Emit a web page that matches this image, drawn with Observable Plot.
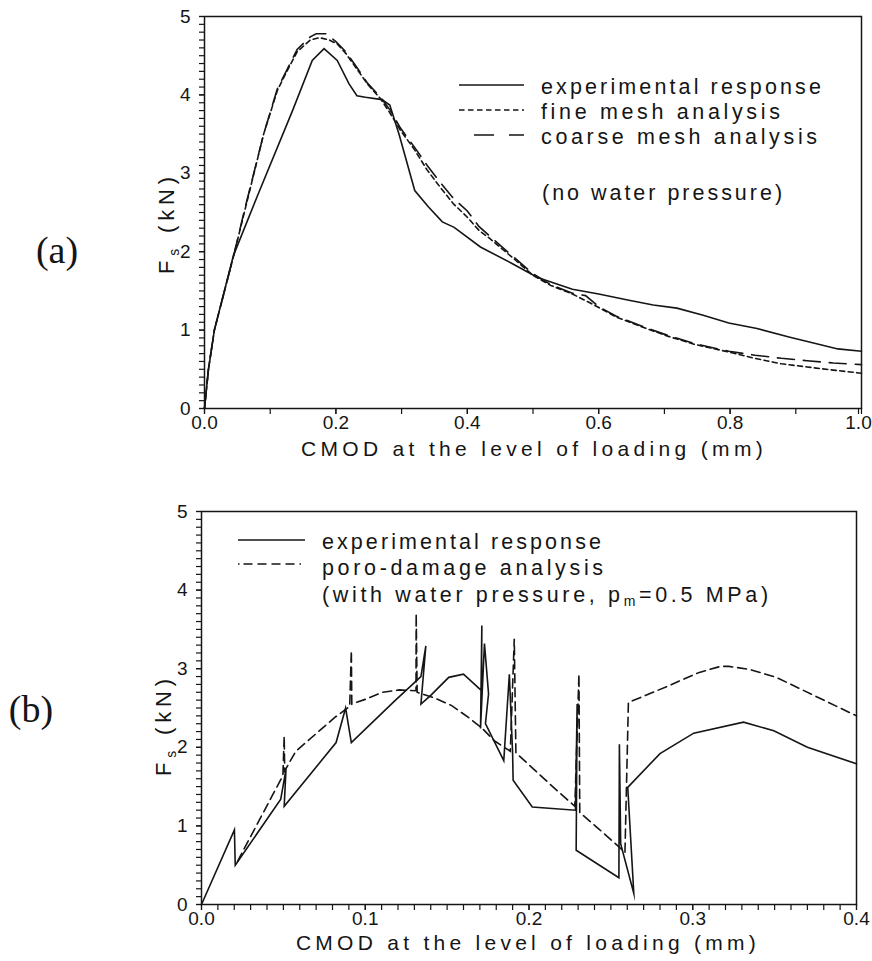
<!DOCTYPE html>
<html>
<head>
<meta charset="utf-8">
<script src="https://cdn.jsdelivr.net/npm/d3@7"></script>
<script src="https://cdn.jsdelivr.net/npm/@observablehq/plot@0.6"></script>
<style>
  html, body { margin: 0; padding: 0; background: #fff; }
  body { width: 872px; height: 961px; position: relative; overflow: hidden; }
  #panelA, #panelB { position: absolute; left: 0; }
  #panelA { top: 0; }
  #panelB { top: 480px; }
</style>
</head>
<body>
<div id="panelA"></div>
<div id="panelB"></div>
<script>
// ---------- DATA ----------
// Panel (a): no water pressure
const expA_cmod   = [0,0.006,0.015,0.044,0.08,0.134,0.164,0.182,0.202,0.22,0.232,0.245,0.27,0.282,0.296,0.32,0.341,0.362,0.38,0.42,0.468,0.507,0.56,0.6,0.646,0.683,0.719,0.759,0.798,0.841,0.891,0.93,0.964,1.0];
const expA_force  = [0,0.5,1.0,1.95,2.7,3.8,4.44,4.59,4.44,4.14,3.99,3.97,3.94,3.87,3.5,2.78,2.57,2.38,2.31,2.06,1.85,1.67,1.52,1.46,1.38,1.32,1.28,1.19,1.09,1.02,0.91,0.83,0.76,0.73];

const fineA_cmod  = [0,0.006,0.015,0.045,0.06,0.075,0.09,0.111,0.126,0.141,0.161,0.175,0.19,0.202,0.215,0.232,0.248,0.268,0.283,0.298,0.319,0.339,0.359,0.379,0.4,0.418,0.434,0.468,0.5,0.527,0.56,0.593,0.626,0.666,0.706,0.745,0.798,0.838,0.878,0.917,0.957,1.0];
const fineA_force = [0,0.5,1.0,1.97,2.48,2.99,3.5,4.06,4.31,4.55,4.7,4.73,4.7,4.65,4.53,4.33,4.14,3.95,3.76,3.55,3.31,3.04,2.82,2.61,2.44,2.27,2.17,1.93,1.7,1.57,1.46,1.32,1.17,1.04,0.92,0.82,0.72,0.64,0.57,0.53,0.49,0.45];

const coarseA_cmod  = [0,0.006,0.015,0.045,0.06,0.075,0.09,0.111,0.126,0.141,0.161,0.17,0.185,0.2,0.215,0.232,0.248,0.268,0.283,0.298,0.319,0.339,0.359,0.379,0.4,0.418,0.434,0.468,0.5,0.527,0.56,0.58,0.6,0.626,0.666,0.706,0.745,0.798,0.838,0.878,0.917,0.957,1.0];
const coarseA_force = [0,0.5,1.0,1.97,2.5,3.0,3.5,4.08,4.33,4.58,4.74,4.78,4.78,4.68,4.55,4.35,4.15,3.97,3.8,3.58,3.34,3.1,2.88,2.68,2.52,2.32,2.2,1.95,1.72,1.58,1.47,1.44,1.3,1.18,1.05,0.93,0.83,0.73,0.68,0.64,0.61,0.58,0.56];

// Panel (b): with water pressure
const expB_cmod  = [0,0.0201,0.0206,0.0484,0.0516,0.0505,0.0822,0.088,0.0915,0.118,0.134,0.137,0.134,0.14,0.151,0.160,0.171,0.1712,0.1704,0.1728,0.1753,0.1734,0.1846,0.188,0.19,0.1903,0.202,0.2284,0.2294,0.2288,0.2549,0.2552,0.256,0.264,0.2603,0.28,0.3006,0.331,0.3495,0.37,0.4];
const expB_force = [0,0.95,0.50,1.34,1.72,1.25,2.06,2.5,2.06,2.59,2.9,3.29,2.55,2.66,2.89,2.93,2.72,3.55,2.24,3.32,2.68,2.30,1.83,2.93,1.92,1.58,1.24,1.20,2.55,0.69,0.34,2.04,0.77,0.14,1.49,1.92,2.18,2.32,2.21,2.0,1.79];

const poroB_cmod  = [0.022,0.0497,0.0505,0.0508,0.0576,0.0709,0.0814,0.0905,0.0915,0.0918,0.1,0.1105,0.121,0.131,0.1311,0.1317,0.142,0.1528,0.163,0.171,0.179,0.1886,0.191,0.192,0.203,0.216,0.228,0.2305,0.231,0.2427,0.2546,0.2586,0.2607,0.285,0.3035,0.317,0.322,0.335,0.351,0.375,0.4];
const poroB_force = [0.55,1.64,2.14,1.70,1.95,2.19,2.38,2.52,3.23,2.55,2.61,2.70,2.73,2.72,3.70,2.70,2.63,2.53,2.38,2.25,2.08,1.95,3.38,1.93,1.72,1.47,1.25,2.93,1.17,0.96,0.74,0.66,2.57,2.78,2.95,3.03,3.03,2.99,2.89,2.65,2.40];

// Ticks
const yMajorTicks  = [0,1,2,3,4,5];
const yTickLabels  = ["0","1","2","3","4","5"];
const yMinorTicks  = d3.range(0, 51).map(i => i / 10);
const xA_majorTicks = [0,0.2,0.4,0.6,0.8,1.0];
const xA_tickLabels = ["0.0","0.2","0.4","0.6","0.8","1.0"];
const xA_minorTicks = d3.range(0, 11).map(i => i / 10);
const xB_majorTicks = [0,0.1,0.2,0.3,0.4];
const xB_tickLabels = ["0.0","0.1","0.2","0.3","0.4"];
const xB_minorTicks = d3.range(0, 41).map(i => i / 100);

// Texts
const xTitle = "CMOD at the level of loading (mm)";
const legendA = ["experimental response", "fine mesh analysis", "coarse mesh analysis"];
const noteA = "(no water pressure)";
const legendB = ["experimental response", "poro-damage analysis"];

// ---------- STYLE ----------
const INK = "#151515";
const SANS = "'Liberation Sans', Arial, Helvetica, sans-serif";
const SERIF = "'Liberation Serif', 'Times New Roman', serif";

function panel(cfg) {
  const lines = cfg.series.map(s =>
    Plot.line(d3.zip(s.x, s.y), {
      x: d => d[0], y: d => d[1],
      stroke: INK, strokeWidth: 1.6, strokeDasharray: s.dash,
      strokeLinejoin: "miter", strokeMiterlimit: 10
    })
  );
  const nLab = cfg.xMajor.length;
  const inner = cfg.xMajor.slice(0, nLab - 1);
  const last = cfg.xMajor.slice(nLab - 1);
  const lab = d => cfg.xLabels[cfg.xMajor.indexOf(d)];
  const svg = Plot.plot({
    width: 872, height: cfg.height,
    marginLeft: cfg.ml, marginRight: cfg.mr, marginTop: cfg.mt, marginBottom: cfg.mb,
    style: { fontFamily: SANS, fontSize: "19px", color: INK, background: "white", overflow: "visible" },
    x: { domain: cfg.xDomain },
    y: { domain: [0, 5] },
    marks: [
      Plot.axisY(yMinorTicks, { tickSize: 5, tickFormat: () => "", label: null, strokeWidth: 1.2 }),
      Plot.axisY(yMajorTicks, { tickSize: 5, tickPadding: 9, label: null, strokeWidth: 1.2,
        tickFormat: d => yTickLabels[yMajorTicks.indexOf(d)] }),
      Plot.axisX(cfg.xMinor, { tickSize: 6, tickFormat: () => "", label: null, strokeWidth: 1.2 }),
      Plot.axisX(inner, { tickSize: 6, tickPadding: 1, label: null, strokeWidth: 1.2, tickFormat: lab }),
      Plot.axisX(last, { tickSize: 6, tickPadding: 1, label: null, strokeWidth: 1.2, tickFormat: lab, dx: -cfg.lastShift }),
      ...lines,
      Plot.frame({ stroke: INK, strokeWidth: 1.5 })
    ]
  });
  document.getElementById(cfg.host).appendChild(svg);
  return d3.select(svg);
}

function fit(sel, target) {
  const node = sel.node();
  const n = node.textContent.length;
  const w = node.getComputedTextLength();
  const ls = (target - w) / Math.max(1, n - 1);
  sel.attr("letter-spacing", ls.toFixed(2));
  return sel;
}

function addText(svg, str, x, y, size, target, anchor = "start", family = SANS) {
  const t = svg.append("text").attr("x", x).attr("y", y)
    .attr("font-family", family).attr("font-size", size).attr("fill", INK)
    .attr("text-anchor", anchor).text(str);
  if (target) fit(t, target);
  return t;
}

function yLabel(svg, x, y) {
  const t = svg.append("text").attr("transform", `translate(${x},${y}) rotate(-90)`)
    .attr("font-family", SANS).attr("font-size", 22).attr("fill", INK)
    .attr("text-anchor", "start");
  t.append("tspan").text("F");
  t.append("tspan").attr("font-size", 14).attr("dy", 5).text("s");
  t.append("tspan").attr("dy", -5).text(" (kN)");
  fit(t, 97);
}

function sample(svg, x1, x2, y, dash) {
  svg.append("line").attr("x1", x1).attr("x2", x2).attr("y1", y).attr("y2", y)
    .attr("stroke", INK).attr("stroke-width", 1.6)
    .attr("stroke-dasharray", dash || null);
}

const LEG = 21.5;

// ---------- PANEL (a) ----------
const A = panel({
  host: "panelA", height: 480, ml: 204, mr: 11, mt: 16, mb: 72, lastShift: 3,
  xDomain: [0, 1], xMinor: xA_minorTicks, xMajor: xA_majorTicks, xLabels: xA_tickLabels,
  series: [
    { x: expA_cmod, y: expA_force, dash: null },
    { x: fineA_cmod, y: fineA_force, dash: "5,3.5" },
    { x: coarseA_cmod, y: coarseA_force, dash: "17,9" }
  ]
});
sample(A, 459, 524, 85, null);
sample(A, 459, 524, 110, "5.5,3.5");
sample(A, 474, 524, 135, "20,15");
addText(A, legendA[0], 541, 94, LEG, 280);
addText(A, legendA[1], 541, 119, LEG, 239);
addText(A, legendA[2], 541, 144, LEG, 276);
addText(A, noteA, 542, 200, LEG, 240);
addText(A, xTitle, 534, 456, 21, 462, "middle");
yLabel(A, 174, 274);
addText(A, "(a)", 57, 263, 38, null, "middle", SERIF);

// ---------- PANEL (b) ----------
const B = panel({
  host: "panelB", height: 481, ml: 201, mr: 16, mt: 31, mb: 57, lastShift: 0,
  xDomain: [0, 0.4], xMinor: xB_minorTicks, xMajor: xB_majorTicks, xLabels: xB_tickLabels,
  series: [
    { x: expB_cmod, y: expB_force, dash: null },
    { x: poroB_cmod, y: poroB_force, dash: "9,5" }
  ]
});
sample(B, 238, 305, 60, null);
sample(B, 238, 305, 84, "1.5,4,9,5,9,5,9,5,9,5");
addText(B, legendB[0], 322, 69, LEG, 279);
addText(B, legendB[1], 322, 95, LEG, 281);
{
  const t = B.append("text").attr("x", 322).attr("y", 122)
    .attr("font-family", SANS).attr("font-size", LEG).attr("fill", INK)
    .attr("text-anchor", "start");
  t.append("tspan").text("(with water pressure, p");
  t.append("tspan").attr("font-size", 14).attr("dy", 4).text("m");
  t.append("tspan").attr("dy", -4).text("=0.5 MPa)");
  fit(t, 446);
}
addText(B, xTitle, 528, 470, 21, 460, "middle");
yLabel(B, 171, 296);
addText(B, "(b)", 31, 242, 38, null, "middle", SERIF);
</script>
</body>
</html>
